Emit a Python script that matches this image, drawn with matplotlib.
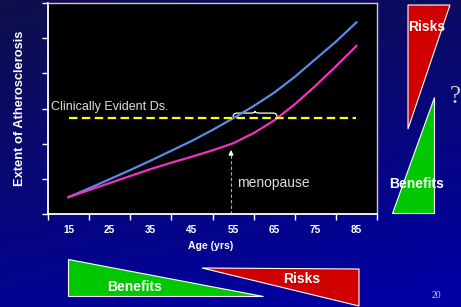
import numpy as np
import matplotlib.pyplot as plt
from matplotlib.patches import Polygon, PathPatch
from matplotlib.path import Path

plt.rcParams['font.family'] = ['Liberation Sans', 'DejaVu Sans']

# data
ages = [15, 20, 25, 30, 35, 40, 45, 50, 55, 60, 65, 70, 75, 80, 85]
men = [0.48, 0.73, 0.99, 1.25, 1.52, 1.80, 2.08, 2.39, 2.72, 3.07, 3.45, 3.90, 4.40, 4.90, 5.45]
women = [0.48, 0.68, 0.88, 1.08, 1.28, 1.46, 1.63, 1.81, 2.01, 2.30, 2.66, 3.12, 3.64, 4.20, 4.78]
threshold = 2.73
menopause_age = 54.5
gap_ages = (55.0, 65.7)
tick_labels = ['15', '25', '35', '45', '55', '65', '75', '85']

W, H = 461, 307
fig = plt.figure(figsize=(W / 100, H / 100), dpi=100)

# background gradient
bg = fig.add_axes([0, 0, 1, 1], zorder=-10)
yy, xx = np.mgrid[0:1:200j, 0:1:200j]
t = np.clip(0.8 * yy + 0.25 * xx, 0, 1)
c0 = np.array([0.06, 0.06, 0.30])
c1 = np.array([0.0, 0.0, 0.64])
img = c0 + (c1 - c0) * t[..., None]
bg.imshow(img, extent=[0, 1, 0, 1], aspect='auto', origin='upper')
bg.axis('off')

def fx(px):
  return px / W

def fy(py):
  return 1 - py / H

ax = fig.add_axes([fx(48), fy(214), fx(377) - fx(48), fy(3) - fy(214)])
ax.set_facecolor('black')
ax.plot(ages, men, color='#5b8be8', lw=1.6)
ax.plot(ages, women, color='#f032c0', lw=1.6)
ax.hlines(threshold, ages[0], ages[-1], colors='#ffff00', lw=1.6,
          linestyles=(0, (3.8, 2.0)))

# dashed marker for menopause
ax.vlines(menopause_age, 0, 1.75, colors='#aaaaaa', lw=0.8, linestyles=(0, (3, 2)))
ax.annotate('', xy=(menopause_age, 1.9), xytext=(menopause_age, 1.6),
            arrowprops=dict(arrowstyle='-|>', color='white', lw=0.8,
                            mutation_scale=7))
ax.text(56, 0.88, 'menopause', color='#dddddd', fontsize=10, va='center')
ax.text(10.7, 3.05, 'Clinically Evident Ds.', color='#dddddd', fontsize=9, va='center')

# curly brace over the gap
a, b = gap_ages
m = (a + b) / 2
y0 = threshold + 0.03
y1 = threshold + 0.14
y2 = threshold + 0.20
verts = [(a, y0), (a, y1), (a + 1.0, y1), (m - 1.0, y1), (m, y1), (m, y2),
         (m, y1), (m + 1.0, y1), (b - 1.0, y1), (b, y1), (b, y0)]
codes = [Path.MOVETO, Path.CURVE3, Path.CURVE3, Path.LINETO, Path.CURVE3, Path.CURVE3,
         Path.CURVE3, Path.CURVE3, Path.LINETO, Path.CURVE3, Path.CURVE3]
ax.add_patch(PathPatch(Path(verts, codes), fill=False, ec='white', lw=0.9))

ax.set_xlim(10, 90)
ax.set_ylim(0, 6)
ax.set_xticks(range(10, 91, 10))
ax.set_xticklabels([])
ax.set_xticks(range(15, 86, 10), minor=True)
ax.set_xticklabels(tick_labels, minor=True)
ax.set_yticks(range(0, 7))
ax.set_yticklabels([])
ax.tick_params(axis='both', which='major', direction='out', length=4, color='white', width=1)
ax.tick_params(axis='x', which='minor', length=0, pad=8, labelsize=7.2, labelcolor='white')
for lab in ax.get_xticklabels(minor=True):
  lab.set_fontweight('bold')
for side in ['left', 'bottom']:
  ax.spines[side].set_color('white')
  ax.spines[side].set_linewidth(1.3)
for side in ['top', 'right']:
  ax.spines[side].set_color('#cccccc')
  ax.spines[side].set_linewidth(1.0)

fig.text(fx(20), fy(108), 'Extent of Atherosclerosis', rotation=90, color='white',
         fontsize=9.3, fontweight='bold', ha='center', va='center')
fig.text(fx(211), fy(246), 'Age (yrs)', color='white', fontsize=7.6,
         fontweight='bold', ha='center', va='center')

def tri(pts, color):
  p = Polygon([(fx(x), fy(y)) for x, y in pts], closed=True, transform=fig.transFigure,
              fc=color, ec='white', lw=0.8)
  fig.patches.append(p)

# bottom triangles
tri([(68, 259), (68, 296), (263, 296)], '#00c800')
tri([(202, 268), (359, 269), (359, 306)], '#d00000')
fig.text(fx(135), fy(287), 'Benefits', color='white', fontsize=10, fontweight='bold',
         ha='center', va='center')
fig.text(fx(302), fy(279), 'Risks', color='white', fontsize=10, fontweight='bold',
         ha='center', va='center')

# right triangles
tri([(408, 5), (450, 5), (408, 129)], '#d00000')
tri([(434, 97), (434, 213), (392, 213)], '#00c800')
fig.text(fx(427), fy(27), 'Risks', color='white', fontsize=10, fontweight='bold',
         ha='center', va='center')
fig.text(fx(417), fy(184), 'Benefits', color='white', fontsize=10, fontweight='bold',
         ha='center', va='center')
fig.text(fx(455), fy(97), '?', color='#cccccc', fontsize=18, family='Liberation Serif',
         ha='center', va='center')
fig.text(fx(436), fy(296), '20', color='#cccccc', fontsize=7, family='Liberation Serif',
         ha='center', va='center')

fig.savefig('out.png', dpi=100, facecolor='#000080')
